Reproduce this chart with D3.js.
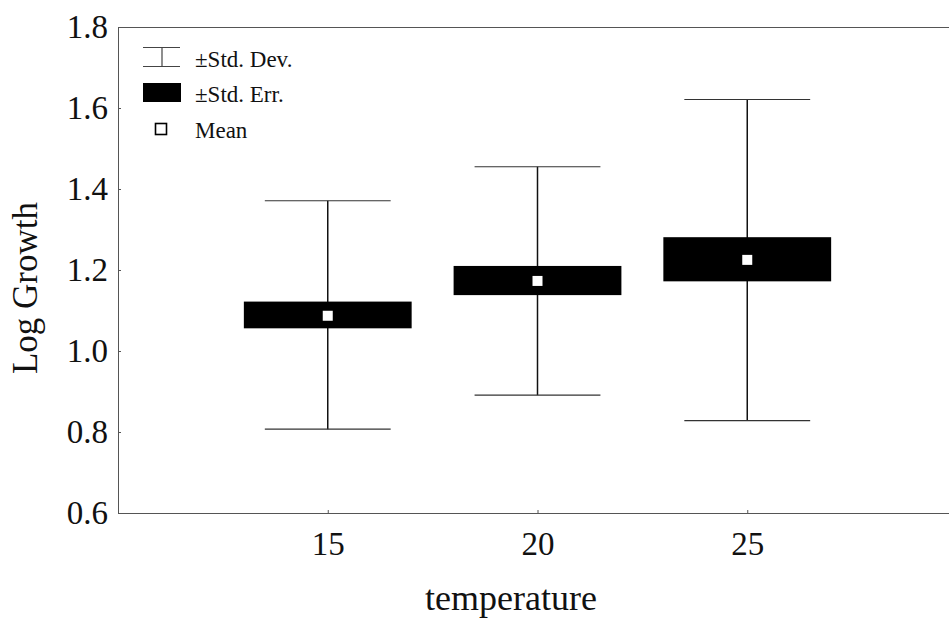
<!DOCTYPE html>
<html>
<head>
<meta charset="utf-8">
<script src="https://cdn.jsdelivr.net/npm/d3@7/dist/d3.min.js"></script>
<style>
  html, body { margin: 0; padding: 0; background: #fff; }
  svg { display: block; }
</style>
</head>
<body>
<svg id="chart" width="949" height="620"></svg>
<script>
// ---- data ----
const temperatures = [15, 20, 25];
const means   = [1.087, 1.173, 1.225];
const seLow   = [1.056, 1.138, 1.172];
const seHigh  = [1.122, 1.210, 1.281];
const sdLow   = [0.807, 0.891, 0.828];
const sdHigh  = [1.371, 1.455, 1.621];
const yTicks  = [0.6, 0.8, 1.0, 1.2, 1.4, 1.6, 1.8];
const xTicks  = [15, 20, 25];
const legendLabels = ["\u00B1Std. Dev.", "\u00B1Std. Err.", "Mean"];

const rows = temperatures.map((t, i) => ({
  t, mean: means[i], seLo: seLow[i], seHi: seHigh[i], sdLo: sdLow[i], sdHi: sdHigh[i]
}));

// ---- layout ----
const svg = d3.select("#chart");
const font = "'Liberation Serif', 'Times New Roman', serif";
const plotLeft = 118, plotTop = 27, plotBottom = 513, plotRight = 957;

const x = d3.scaleLinear().domain([10, 30]).range([plotLeft, plotRight]);
const y = d3.scaleLinear().domain([0.6, 1.8]).range([plotBottom, plotTop]);

const boxHalf = 2.0;   // in x data units
const capHalf = 1.5;

const frameColor = "#555";
svg.append("line").attr("x1", plotLeft).attr("x2", 949).attr("y1", plotTop + 0.5).attr("y2", plotTop + 0.5)
  .attr("stroke", frameColor).attr("stroke-width", 1);

// axes
const yAxis = d3.axisLeft(y).tickValues(yTicks).tickFormat(d3.format(".1f")).tickSize(-3).tickPadding(10);
const gy = svg.append("g").attr("transform", `translate(${plotLeft},0)`).call(yAxis);
gy.select(".domain").attr("stroke", frameColor);
gy.selectAll(".tick line").attr("stroke", frameColor);
gy.selectAll(".tick text").attr("font-family", font).attr("font-size", 33).attr("fill", "#111")
  .attr("dy", "0.33em");

const xAxis = d3.axisBottom(x).tickValues(xTicks).tickFormat(d3.format("d")).tickSize(-3).tickPadding(18);
const gx = svg.append("g").attr("transform", `translate(0,${plotBottom})`).call(xAxis);
gx.select(".domain").attr("stroke", frameColor);
gx.selectAll(".tick line").attr("stroke", frameColor);
gx.selectAll(".tick text").attr("font-family", font).attr("font-size", 33).attr("fill", "#111")
  .attr("dy", "0.72em");

// axis titles
svg.append("text").attr("x", 511).attr("y", 610).attr("text-anchor", "middle")
  .attr("font-family", font).attr("font-size", 36).attr("fill", "#111").text("temperature");
svg.append("text").attr("transform", "translate(37,288) rotate(-90)").attr("text-anchor", "middle")
  .attr("font-family", font).attr("font-size", 35).attr("fill", "#111").text("Log Growth");

// ---- marks ----
const g = svg.append("g");
const ink = "#111";

g.selectAll(".whisker").data(rows).join("line")
  .attr("x1", d => x(d.t)).attr("x2", d => x(d.t))
  .attr("y1", d => y(d.sdHi)).attr("y2", d => y(d.sdLo))
  .attr("stroke", ink).attr("stroke-width", 1.5);

g.selectAll(".capHi").data(rows).join("line")
  .attr("x1", d => x(d.t - capHalf)).attr("x2", d => x(d.t + capHalf))
  .attr("y1", d => y(d.sdHi)).attr("y2", d => y(d.sdHi))
  .attr("stroke", "#333").attr("stroke-width", 1.2);
g.selectAll(".capLo").data(rows).join("line")
  .attr("x1", d => x(d.t - capHalf)).attr("x2", d => x(d.t + capHalf))
  .attr("y1", d => y(d.sdLo)).attr("y2", d => y(d.sdLo))
  .attr("stroke", "#333").attr("stroke-width", 1.2);

g.selectAll(".box").data(rows).join("rect")
  .attr("x", d => x(d.t - boxHalf)).attr("width", d => x(d.t + boxHalf) - x(d.t - boxHalf))
  .attr("y", d => y(d.seHi)).attr("height", d => y(d.seLo) - y(d.seHi))
  .attr("fill", "#000");

const ms = 10;
g.selectAll(".mean").data(rows).join("rect")
  .attr("x", d => x(d.t) - ms / 2).attr("y", d => y(d.mean) - ms / 2)
  .attr("width", ms).attr("height", ms).attr("fill", "#fff");

// ---- legend ----
const lg = svg.append("g").attr("font-family", font).attr("font-size", 23).attr("fill", ink);
lg.append("line").attr("x1", 143).attr("x2", 180).attr("y1", 47.5).attr("y2", 47.5).attr("stroke", "#444").attr("stroke-width", 1.2);
lg.append("line").attr("x1", 143).attr("x2", 180).attr("y1", 66.5).attr("y2", 66.5).attr("stroke", "#444").attr("stroke-width", 1.2);
lg.append("line").attr("x1", 162).attr("x2", 162).attr("y1", 47.5).attr("y2", 66.5).attr("stroke", "#444").attr("stroke-width", 1.2);
lg.append("text").attr("x", 195).attr("y", 67).text(legendLabels[0]);
lg.append("rect").attr("x", 143).attr("y", 83).attr("width", 38).attr("height", 19).attr("fill", "#000");
lg.append("text").attr("x", 195).attr("y", 102).text(legendLabels[1]);
lg.append("rect").attr("x", 155.5).attr("y", 123.5).attr("width", 11).attr("height", 11)
  .attr("fill", "#fff").attr("stroke", "#000").attr("stroke-width", 1.6);
lg.append("text").attr("x", 195).attr("y", 138).text(legendLabels[2]);
</script>
</body>
</html>
